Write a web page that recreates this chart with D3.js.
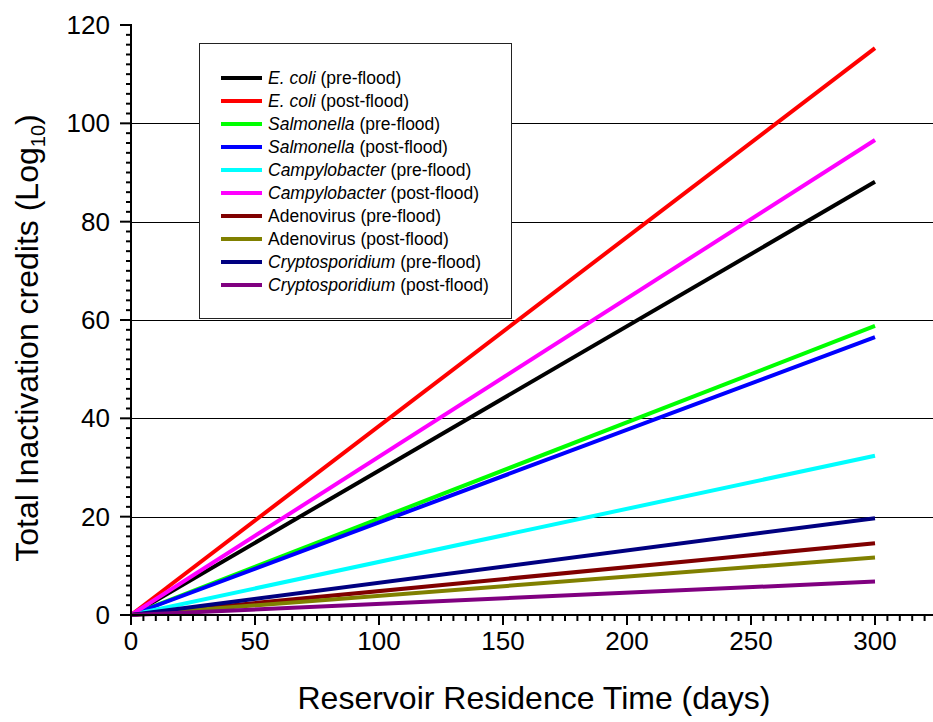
<!DOCTYPE html>
<html>
<head>
<meta charset="utf-8">
<script src="https://cdn.jsdelivr.net/npm/d3@7"></script>
<style>
  body { margin: 0; background: #fff; }
  svg { display: block; font-family: Arial, "Liberation Sans", sans-serif; }
</style>
</head>
<body>
<div id="chart"></div>
<script>
// chart values (log10 credits at day 0 and day 300)
var days = [0, 300];
var seriesNames = [
  "E. coli|(pre-flood)", "E. coli|(post-flood)",
  "Salmonella|(pre-flood)", "Salmonella|(post-flood)",
  "Campylobacter|(pre-flood)", "Campylobacter|(post-flood)",
  "|Adenovirus (pre-flood)", "|Adenovirus (post-flood)",
  "Cryptosporidium|(pre-flood)", "Cryptosporidium|(post-flood)"
];
var creditsAt300 = [88.1, 115.3, 58.8, 56.5, 32.4, 96.6, 14.6, 11.7, 19.7, 6.8];
var seriesColors = ["#000000", "#ff0000", "#00ff00", "#0000ff", "#00ffff",
                    "#ff00ff", "#800000", "#808000", "#000080", "#800080"];
var yTicks = [0, 20, 40, 60, 80, 100, 120];
var xTicks = [0, 50, 100, 150, 200, 250, 300];

var width = 933, height = 722;
var svg = d3.select("#chart").append("svg")
    .attr("width", width)
    .attr("height", height);

// scales: axis origin at (131,615), 300 days at 875, 120 at 25
var x = d3.scaleLinear().domain([0, 300]).range([131, 875]);
var y = d3.scaleLinear().domain([0, 120]).range([615, 25]);

// gridlines at the major y ticks (not 0, not 120)
svg.append("g")
    .selectAll("line")
    .data(yTicks.filter(function (d) { return d > 0 && d < 120; }))
    .enter().append("line")
    .attr("x1", x(0)).attr("x2", width)
    .attr("y1", function (d) { return Math.round(y(d)) + 0.5; })
    .attr("y2", function (d) { return Math.round(y(d)) + 0.5; })
    .attr("stroke", "#000")
    .attr("stroke-width", 1);

// lines
var lineGen = d3.line()
    .x(function (d) { return x(d[0]); })
    .y(function (d) { return y(d[1]); });

svg.append("g")
    .selectAll("path")
    .data(creditsAt300)
    .enter().append("path")
    .attr("d", function (v) {
      return lineGen(days.map(function (t) { return [t, v * t / 300]; }));
    })
    .attr("fill", "none")
    .attr("stroke", function (d, i) { return seriesColors[i]; })
    .attr("stroke-width", 4);

// x axis: major every 50, minor every 5, running to the right edge
var xMax = x.invert(width);
var xAxis = svg.append("g").attr("transform", "translate(0," + y(0) + ")");
xAxis.append("line")
    .attr("x1", x(0) - 1).attr("x2", width)
    .attr("stroke", "#000").attr("stroke-width", 2);
xAxis.selectAll(".minor")
    .data(d3.range(0, xMax, 5))
    .enter().append("line")
    .attr("x1", function (d) { return x(d); })
    .attr("x2", function (d) { return x(d); })
    .attr("y1", 0)
    .attr("y2", function (d) { return d % 50 === 0 ? 10 : 6; })
    .attr("stroke", "#000").attr("stroke-width", 2);
xAxis.selectAll("text")
    .data(xTicks)
    .enter().append("text")
    .attr("x", function (d) { return x(d); })
    .attr("y", 35)
    .attr("text-anchor", "middle")
    .attr("font-size", 26)
    .text(String);

// y axis: major every 20, minor every 2
var yAxis = svg.append("g").attr("transform", "translate(" + x(0) + ",0)");
yAxis.append("line")
    .attr("y1", y(0) + 1).attr("y2", y(120) - 1)
    .attr("stroke", "#000").attr("stroke-width", 2);
yAxis.selectAll(".minor")
    .data(d3.range(0, 121, 2))
    .enter().append("line")
    .attr("y1", function (d) { return y(d); })
    .attr("y2", function (d) { return y(d); })
    .attr("x1", 0)
    .attr("x2", function (d) { return d % 20 === 0 ? -11 : -5; })
    .attr("stroke", "#000").attr("stroke-width", 2);
yAxis.selectAll("text")
    .data(yTicks)
    .enter().append("text")
    .attr("x", -21)
    .attr("y", function (d) { return y(d) + 9; })
    .attr("text-anchor", "end")
    .attr("font-size", 26)
    .text(String);

// axis titles
svg.append("text")
    .attr("x", 534)
    .attr("y", 709)
    .attr("text-anchor", "middle")
    .attr("font-size", 32)
    .text("Reservoir Residence Time (days)");

var yTitle = svg.append("text")
    .attr("transform", "translate(38,338) rotate(-90)")
    .attr("text-anchor", "middle")
    .attr("font-size", 32);
yTitle.append("tspan").text("Total Inactivation credits (Log");
yTitle.append("tspan").attr("font-size", 20).attr("dy", 7).text("10");
yTitle.append("tspan").attr("dy", -7).text(")");

// legend
var legend = svg.append("g");
legend.append("rect")
    .attr("x", 199.5).attr("y", 43.5)
    .attr("width", 312).attr("height", 275)
    .attr("fill", "#fff")
    .attr("stroke", "#222").attr("stroke-width", 1);

var rows = legend.selectAll(".row")
    .data(seriesNames)
    .enter().append("g")
    .attr("transform", function (d, i) { return "translate(0," + (78 + i * 23) + ")"; });
rows.append("line")
    .attr("x1", 221).attr("x2", 262)
    .attr("stroke", function (d, i) { return seriesColors[i]; })
    .attr("stroke-width", 4);
var labels = rows.append("text")
    .attr("x", 268)
    .attr("y", 6)
    .attr("font-size", 17.5);
labels.append("tspan")
    .attr("font-style", "italic")
    .text(function (d) { return d.split("|")[0]; });
labels.append("tspan")
    .text(function (d) {
      var parts = d.split("|");
      return (parts[0] ? " " : "") + parts[1];
    });
</script>
</body>
</html>
